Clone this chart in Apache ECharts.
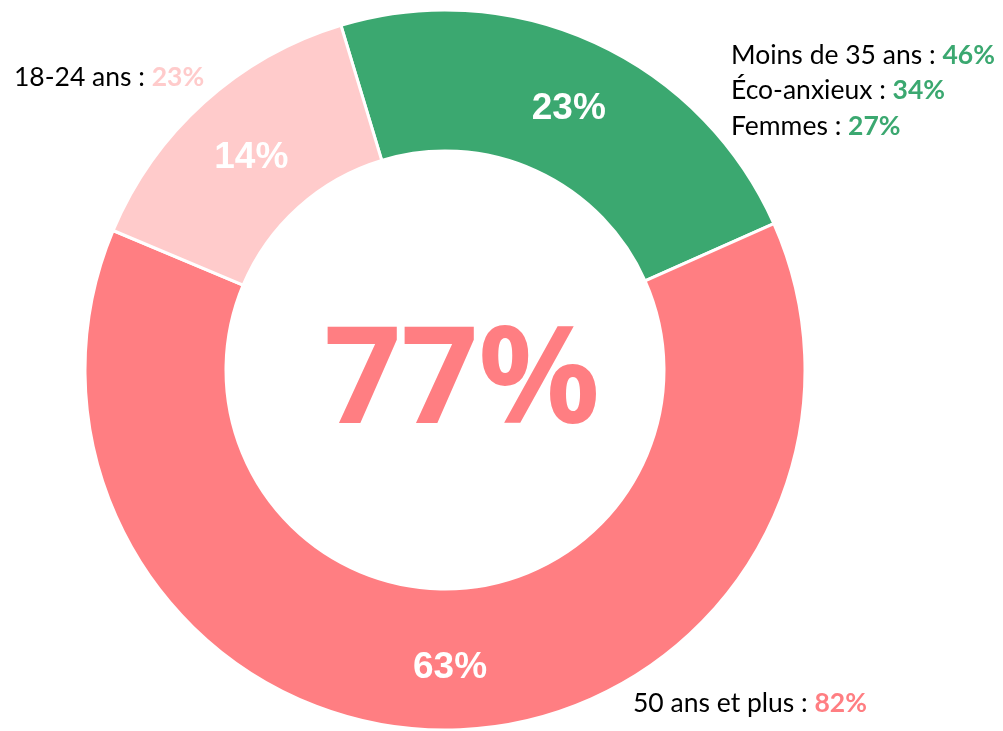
<!DOCTYPE html>
<html>
<head>
<meta charset="utf-8">
<script src="https://cdn.jsdelivr.net/npm/echarts@6/dist/echarts.min.js"></script>
<style>
  html, body { margin: 0; padding: 0; background: #fff; }
  #chart { width: 1003px; height: 731px; }
</style>
</head>
<body>
<div id="chart"></div>
<script>
// Share of respondents by answer
const categories = ['Oui', 'Non, plutôt', 'Non, pas du tout'];
const values = [23, 63, 14];
const colors = ['#3BA870', '#FF7E82', '#FFCBCB'];

// Headline figure in the middle of the ring
const headline = '77%';

// Sub-group call-outs
const greenNotes = ['Moins de 35 ans', 'Éco-anxieux', 'Femmes'];
const greenNoteValues = ['46%', '34%', '27%'];
const pinkNotes = ['18-24 ans'];
const pinkNoteValues = ['23%'];
const redNotes = ['50 ans et plus'];
const redNoteValues = ['82%'];

const baseFont = 'Lato, "Open Sans", sans-serif';

function note(text, val, color, x, y) {
  return {
    type: 'text',
    x: x,
    y: y,
    style: {
      text: '{a|' + text + ' : }{b|' + val + '}',
      verticalAlign: 'middle',
      rich: {
        a: { fontFamily: baseFont, fontSize: 26.5, fill: '#000' },
        b: { fontFamily: baseFont, fontSize: 26.5, fontWeight: 'bold', fill: color }
      }
    }
  };
}

const graphics = [];
greenNotes.forEach((t, i) => graphics.push(note(t, greenNoteValues[i], colors[0], 731, 55 + i * 35.5)));
pinkNotes.forEach((t, i) => graphics.push(note(t, pinkNoteValues[i], colors[2], 14, 77)));
redNotes.forEach((t, i) => graphics.push(note(t, redNoteValues[i], colors[1], 633, 703)));

graphics.push({
  type: 'text',
  x: 462,
  y: 385,
  style: {
    text: headline,
    align: 'center',
    verticalAlign: 'middle',
    fill: colors[1],
    fontFamily: '"Noto Sans", "Open Sans", sans-serif',
    fontWeight: 'bold',
    fontSize: 135
  }
});

const chart = echarts.init(document.getElementById('chart'), null, { renderer: 'canvas' });
chart.setOption({
  animation: false,
  backgroundColor: '#fff',
  graphic: graphics,
  series: [{
    type: 'pie',
    center: [445, 370],
    radius: [219, 360],
    startAngle: 106.8,
    clockwise: true,
    avoidLabelOverlap: false,
    itemStyle: { borderColor: '#fff', borderWidth: 3 },
    label: {
      show: true,
      position: 'inside',
      formatter: p => p.value + '%',
      color: '#fff',
      fontFamily: 'Liberation Sans, Arial, sans-serif',
      fontWeight: 'bold',
      fontSize: 37,
      offset: [2, 5]
    },
    labelLine: { show: false },
    emphasis: { disabled: true },
    data: categories.map((c, i) => ({ name: c, value: values[i], itemStyle: { color: colors[i] } }))
  }]
});
</script>
</body>
</html>
